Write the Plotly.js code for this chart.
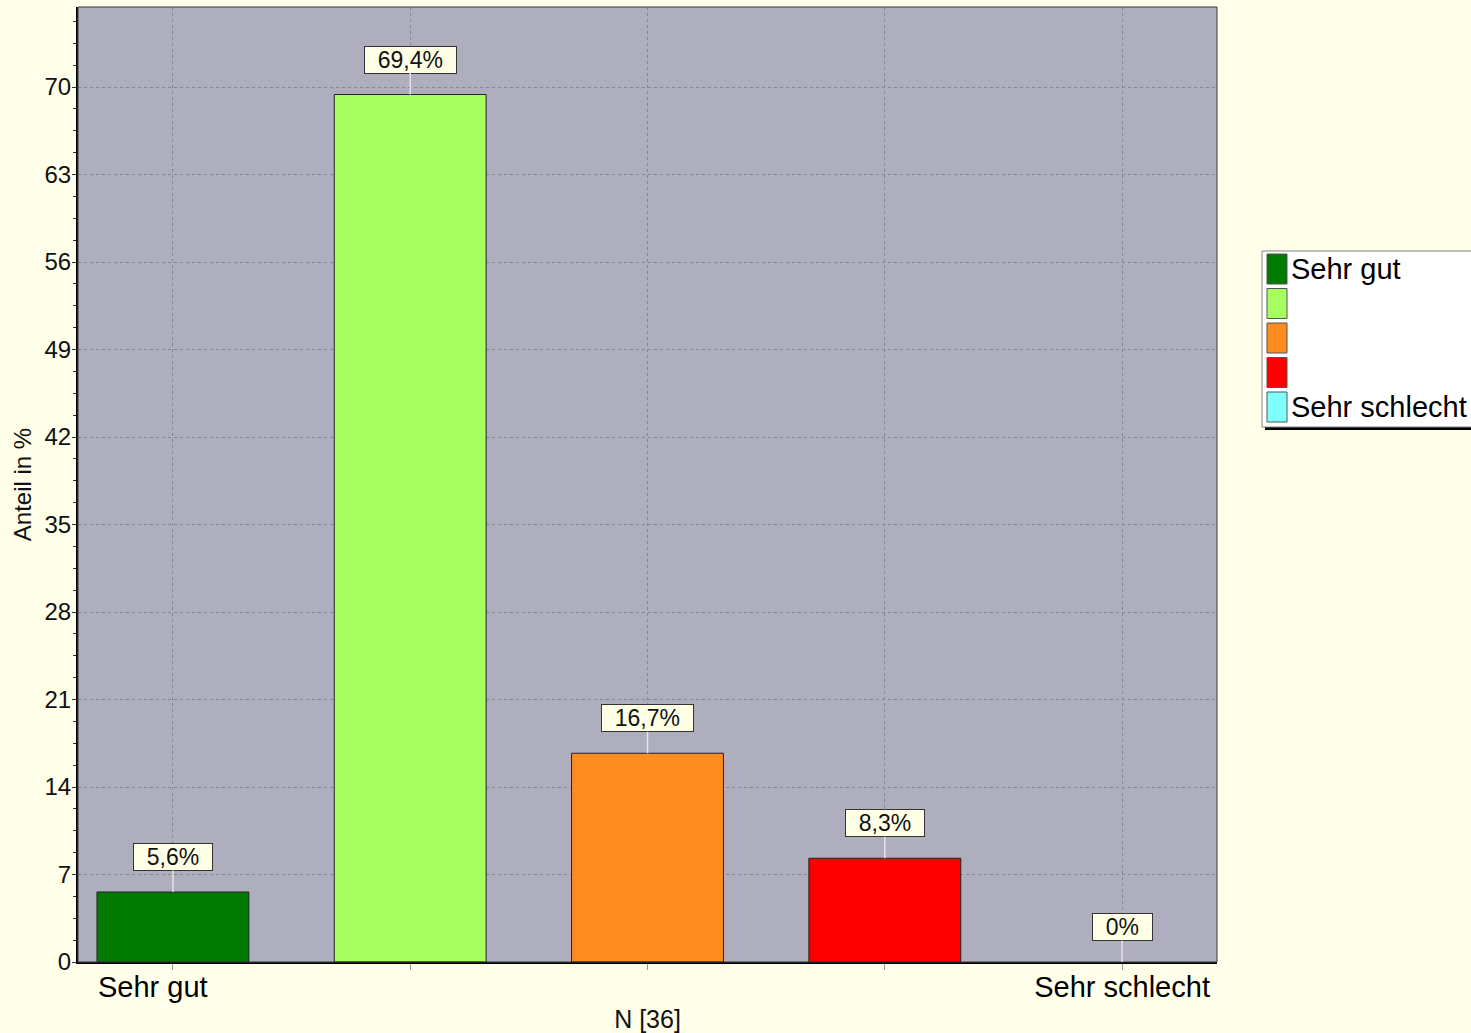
<!DOCTYPE html>
<html>
<head>
<meta charset="utf-8">
<script src="https://cdn.plot.ly/plotly-3.0.1.min.js"></script>
<style>
  html, body { margin: 0; padding: 0; background: #FFFFEA; }
  #chart { width: 1471px; height: 1033px; }
</style>
</head>
<body>
<div id="chart"></div>
<script>
// Answer categories (only the two ends carry a name)
const categories = ['Sehr gut', '', '', '', 'Sehr schlecht'];
// Share of answers in percent
const shares = [5.6, 69.4, 16.7, 8.3, 0];
// One colour per answer category
const barColors = ['#007A00', '#A6FF5E', '#FF8C1F', '#FF0000', '#80FFFF'];
// Labels under the category axis
const tickLabels = ['Sehr gut\u00a0\u00a0\u00a0\u00a0\u00a0', '', '', '', 'Sehr schlecht'];
const sampleSize = 36;

const W = 1471, H = 1033;
const margin = { l: 78, r: 254, t: 7, b: 71 };
const plotW = W - margin.l - margin.r;
const plotH = H - margin.t - margin.b;
const px2x = px => (px - margin.l) / plotW;
const px2y = py => (H - margin.b - py) / plotH;

const positions = categories.map((_, i) => i);
const fmt = v => String(v).replace('.', ',') + '%';
const pad = '\u00a0\u00a0';

const FONT = 'Arial, "Liberation Sans", sans-serif';

const bars = {
  type: 'bar',
  x: positions,
  y: shares,
  width: 0.64,
  marker: {
    color: barColors,
    line: { color: '#222', width: shares.map(v => (v > 0 ? 1 : 0)) }
  },
  hoverinfo: 'skip',
  showlegend: false
};

// Value callouts above each bar
const valueNotes = shares.map((v, i) => ({
  x: positions[i], y: v, xref: 'x', yref: 'y',
  text: pad + fmt(v) + pad,
  showarrow: true, arrowhead: 0, arrowwidth: 1.5, arrowcolor: '#E4E4E4',
  ax: 0, ay: -35,
  bgcolor: '#FFFFE6', bordercolor: '#333', borderwidth: 1, borderpad: 0,
  font: { family: FONT, size: 23, color: '#111' }
}));

// Legend drawn as a boxed list of swatches
const legLeft = 1262, legTop = 251, legBottom = 427, legRight = 1480;
const rowH = 34.5, swW = 20, swH = 30, swX = 1267, firstSwTop = 254;
const legendShapes = [
  { type: 'rect', xref: 'paper', yref: 'paper',
    x0: px2x(legLeft + 3), x1: px2x(legRight + 3), y0: px2y(legBottom + 3), y1: px2y(legTop + 3),
    fillcolor: '#000', line: { width: 0 } },
  { type: 'rect', xref: 'paper', yref: 'paper',
    x0: px2x(legLeft), x1: px2x(legRight), y0: px2y(legBottom), y1: px2y(legTop),
    fillcolor: '#FFFFFF', line: { color: '#808080', width: 1 } }
];
const legendNotes = [];
categories.forEach((name, i) => {
  const top = firstSwTop + i * rowH;
  legendShapes.push({
    type: 'rect', xref: 'paper', yref: 'paper',
    x0: px2x(swX), x1: px2x(swX + swW), y0: px2y(top + swH), y1: px2y(top),
    fillcolor: barColors[i], line: { color: '#555', width: 1 }
  });
  if (name) {
    legendNotes.push({
      xref: 'paper', yref: 'paper', x: px2x(swX + swW + 2), y: px2y(top + swH / 2),
      xanchor: 'left', yanchor: 'middle', showarrow: false, text: name,
      font: { family: FONT, size: 29, color: '#000' }
    });
  }
});

// Plot frame: thin dark edge on top and right
const frame = {
  type: 'rect', xref: 'paper', yref: 'paper', x0: 0, x1: 1, y0: 0, y1: 1,
  line: { color: '#3A3A3A', width: 1 }, fillcolor: 'rgba(0,0,0,0)'
};

const layout = {
  width: W, height: H,
  margin: margin,
  paper_bgcolor: '#FFFFEA',
  plot_bgcolor: '#AEAEBE',
  font: { family: FONT, size: 24, color: '#111' },
  showlegend: false,
  bargap: 0,
  xaxis: {
    range: [-0.4, 4.4],
    tickmode: 'array', tickvals: positions, ticktext: tickLabels,
    ticks: 'outside', ticklen: 6, tickcolor: '#999',
    ticklabelstandoff: -8,
    tickfont: { family: FONT, size: 29, color: '#000' },
    showgrid: true, gridcolor: '#85858F', griddash: '3px,3px', gridwidth: 1,
    zeroline: false,
    showline: true, linecolor: '#000', linewidth: 2,
    title: { text: 'N [' + sampleSize + ']', font: { family: FONT, size: 25, color: '#111' }, standoff: 10 },
    fixedrange: true
  },
  yaxis: {
    range: [0, 76.4],
    tickmode: 'linear', tick0: 0, dtick: 7,
    ticks: 'outside', ticklen: 4, tickcolor: '#333',
    ticklabelstandoff: -4,
    tickfont: { family: FONT, size: 24, color: '#111' },
    minor: { dtick: 1.75, ticks: 'outside', ticklen: 3, tickcolor: '#333', showgrid: false },
    showgrid: true, gridcolor: '#85858F', griddash: '3px,3px', gridwidth: 1,
    zeroline: false,
    showline: true, linecolor: '#000', linewidth: 2,
    title: { text: 'Anteil in %', font: { family: FONT, size: 24, color: '#111' }, standoff: 6 },
    fixedrange: true
  },
  shapes: [frame].concat(legendShapes),
  annotations: valueNotes.concat(legendNotes)
};

Plotly.newPlot('chart', [bars], layout, { staticPlot: true });
</script>
</body>
</html>
